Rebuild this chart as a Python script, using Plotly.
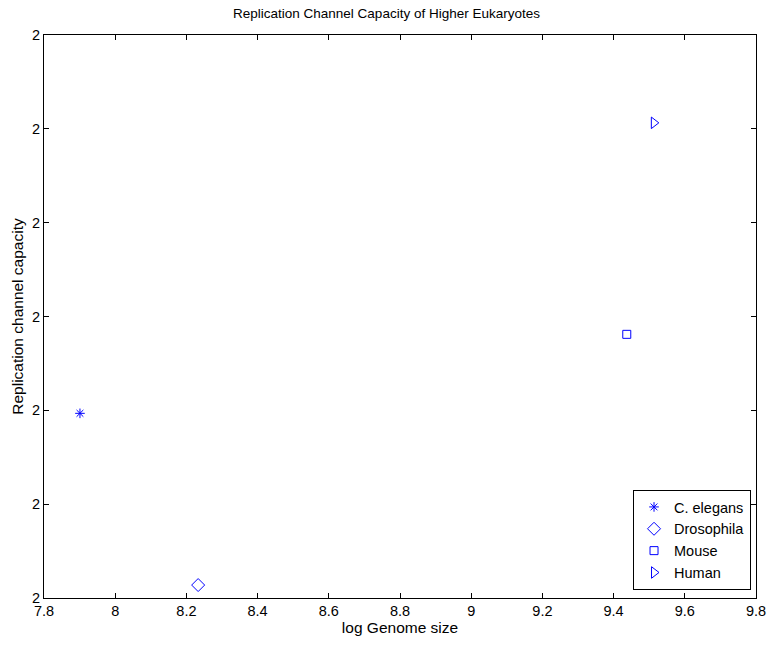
import plotly.graph_objects as go

species = ["C. elegans", "Drosophila", "Mouse", "Human"]
log_genome_size = [7.901, 8.233, 9.437, 9.513]
capacity = [1.9999984, 1.9999069, 2.0000405, 2.0001532]
symbols = ["asterisk-open", "diamond-open", "square-open", "triangle-right-open"]
sizes = [8, 10, 8, 10]

x_ticks = [7.8, 8.0, 8.2, 8.4, 8.6, 8.8, 9.0, 9.2, 9.4, 9.6, 9.8]
x_tick_labels = ["7.8", "8", "8.2", "8.4", "8.6", "8.8", "9", "9.2", "9.4", "9.6", "9.8"]
y_ticks = [1.9999, 1.99995, 2.0, 2.00005, 2.0001, 2.00015, 2.0002]
y_tick_labels = ["2"] * len(y_ticks)

fig = go.Figure()
for name, x, y, s, sz in zip(species, log_genome_size, capacity, symbols, sizes):
    fig.add_trace(go.Scatter(
        x=[x], y=[y], mode="markers", name=name,
        marker=dict(symbol=s, size=sz, color="#0000ff",
                    line=dict(color="#0000ff", width=1)),
    ))

axis_common = dict(showgrid=False, zeroline=False, showline=True, linecolor="black",
                   linewidth=1, mirror="ticks", ticks="inside", ticklen=5,
                   tickcolor="black", tickfont=dict(size=14.5, color="black"),
                   automargin=False)

fig.update_layout(
    width=773, height=645,
    margin=dict(l=44, r=17, t=35, b=47),
    paper_bgcolor="white", plot_bgcolor="white",
    font=dict(family="Liberation Sans, Arial, sans-serif", size=14, color="black"),
    title=dict(text="Replication Channel Capacity of Higher Eukaryotes",
               x=0.5, xanchor="center", y=1 - 13/645, yanchor="middle",
               font=dict(size=13.5)),
    xaxis=dict(range=[7.8, 9.8], tickvals=x_ticks, ticktext=x_tick_labels,
               title=dict(text="log Genome size", font=dict(size=15.5), standoff=2),
               **axis_common),
    yaxis=dict(range=[1.9999, 2.0002], tickvals=y_ticks, ticktext=y_tick_labels,
               title=dict(text="Replication channel capacity", font=dict(size=15.5), standoff=4),
               **axis_common),
    legend=dict(x=0.993, y=0.0142, xanchor="right", yanchor="bottom",
                bordercolor="black", borderwidth=1, bgcolor="white",
                font=dict(size=14.5), tracegroupgap=0, itemwidth=30),
    showlegend=True,
)

fig.write_html("out.html")
